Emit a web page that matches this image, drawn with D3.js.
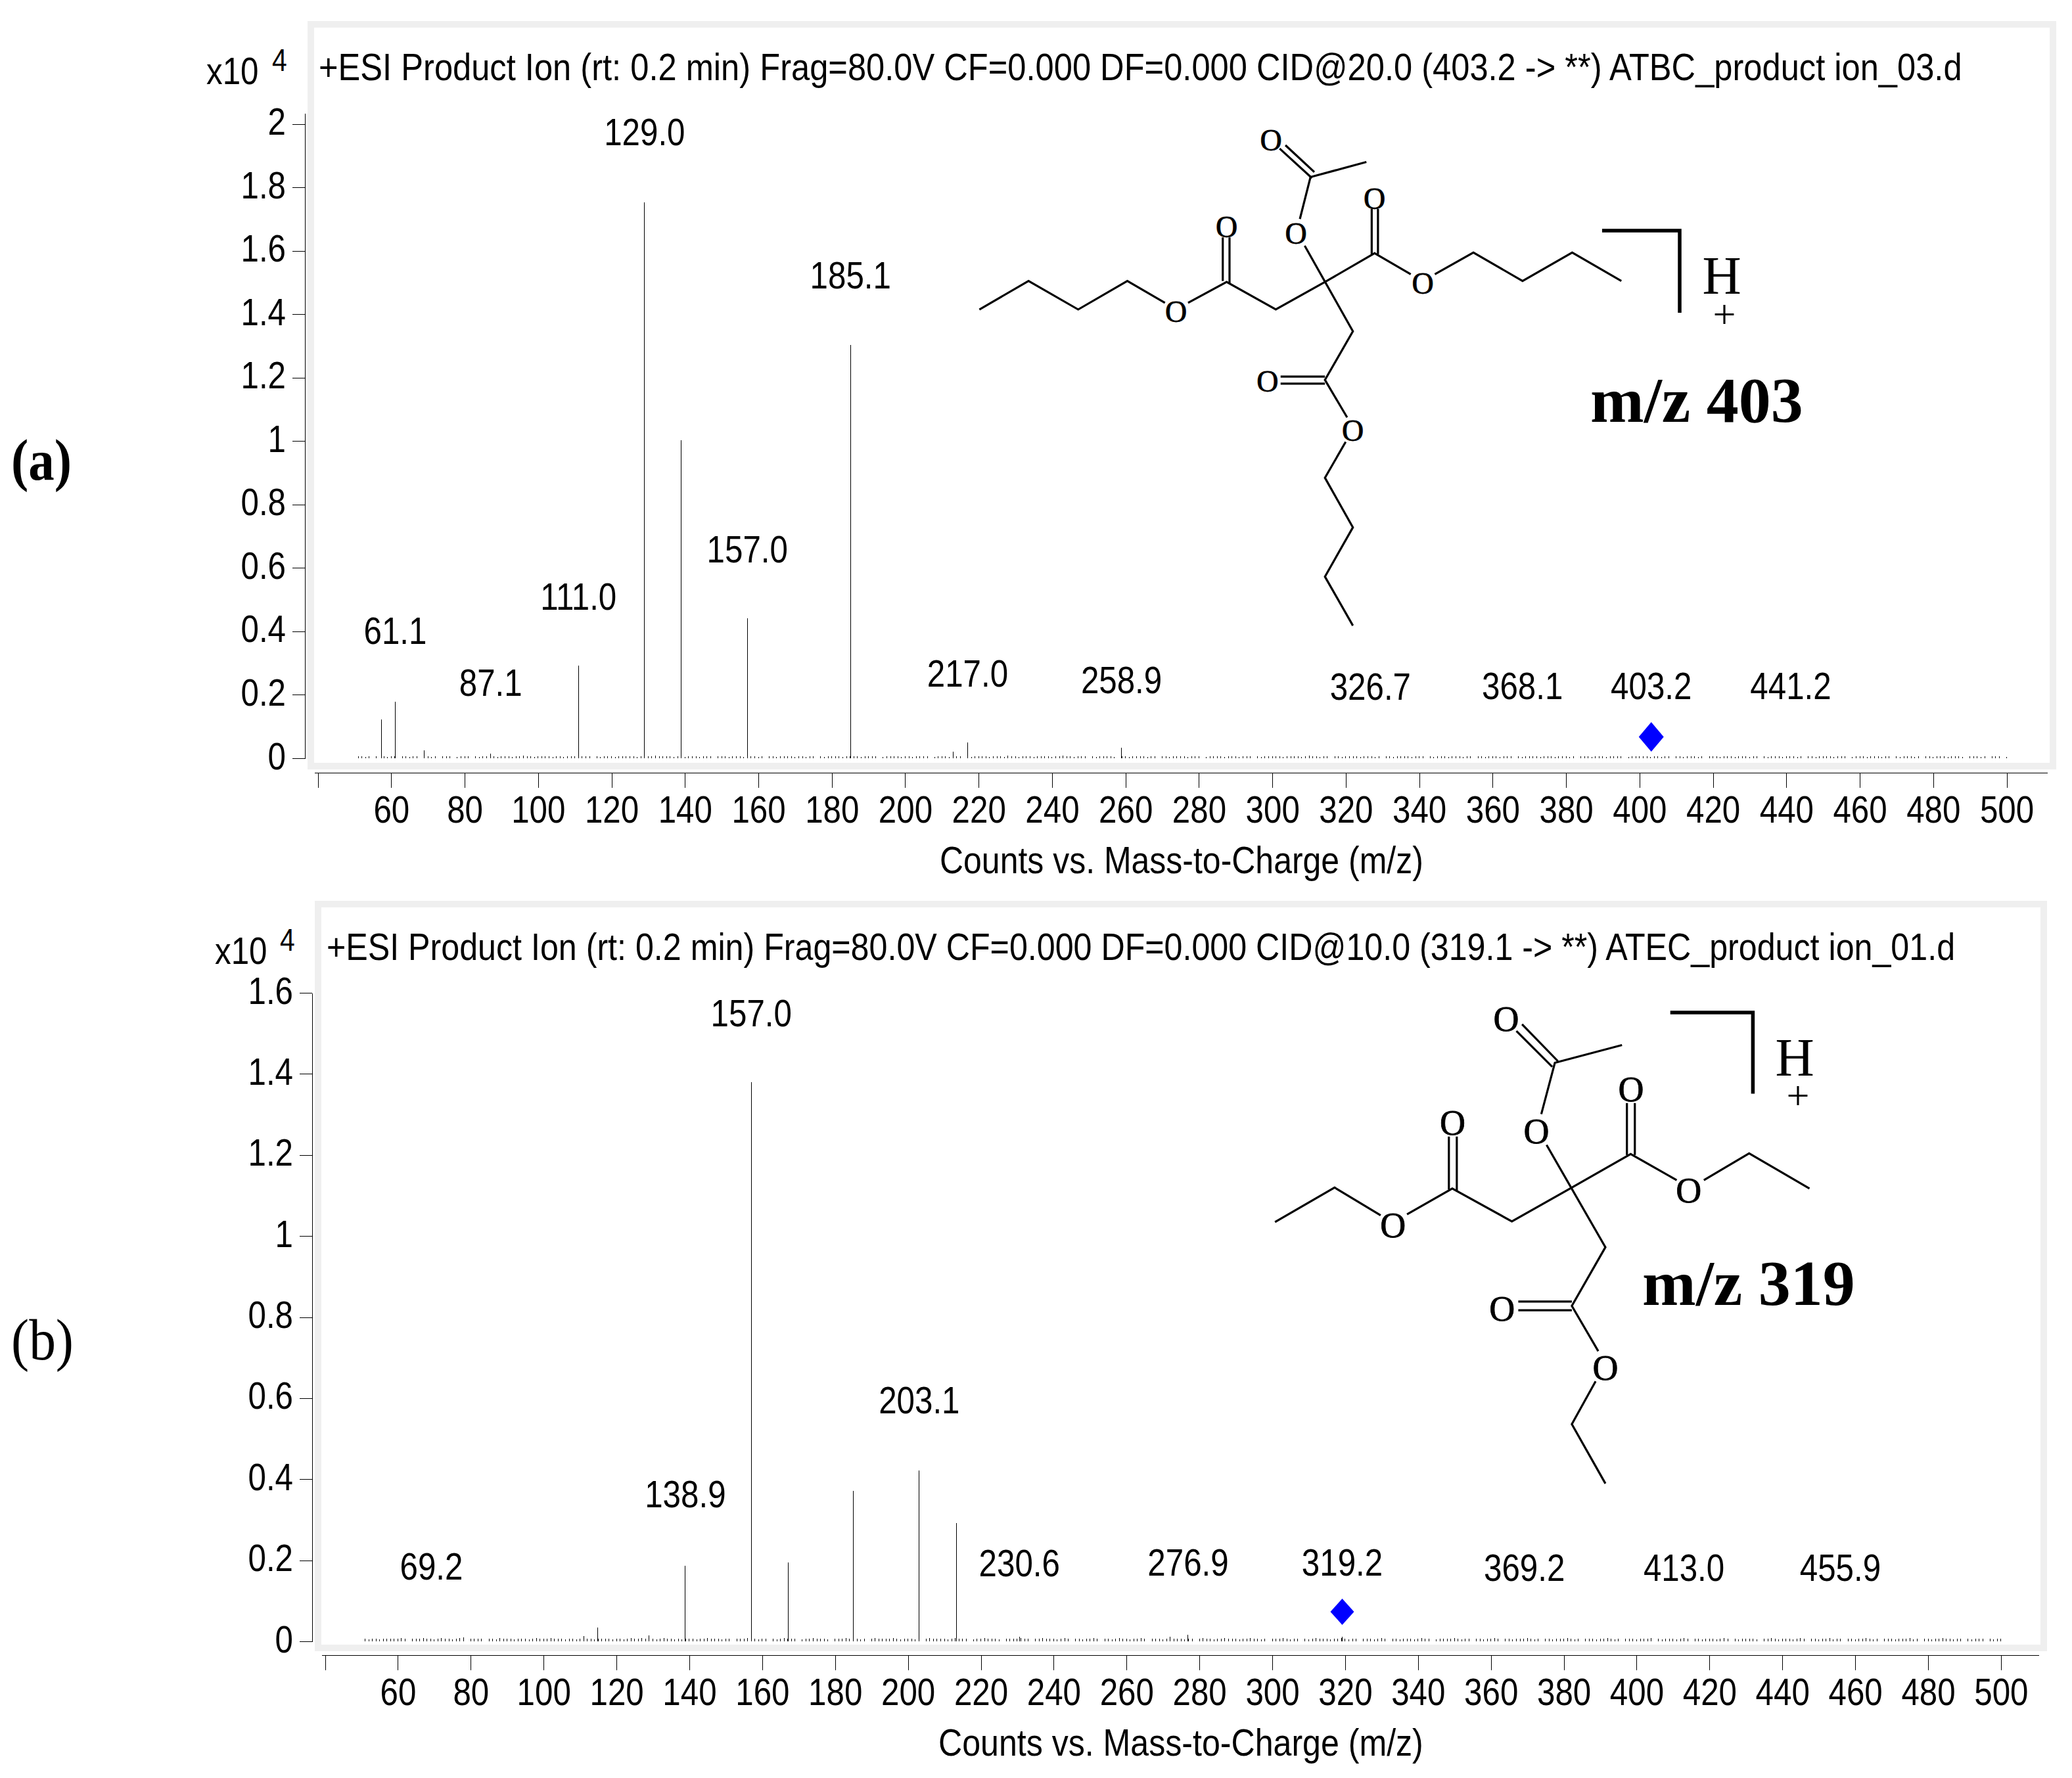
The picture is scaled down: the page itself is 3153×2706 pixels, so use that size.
<!DOCTYPE html>
<html>
<head>
<meta charset="utf-8">
<script src="https://cdnjs.cloudflare.com/ajax/libs/d3/7.8.5/d3.min.js"></script>
<style>
  body { margin: 0; background: #fff; }
  text { font-family: "Liberation Sans", Arial, sans-serif; fill: #000; }
  .serif { font-family: "Liberation Serif", "Times New Roman", serif; }
</style>
</head>
<body>
<div id="chart"></div>
<script>
// tick labels, the first tick at 40 carries no label in the original
const xTicks = [40, 60, 80, 100, 120, 140, 160, 180, 200, 220, 240, 260, 280, 300, 320, 340, 360, 380, 400, 420, 440, 460, 480, 500];
const yTicksA = [0, 0.2, 0.4, 0.6, 0.8, 1, 1.2, 1.4, 1.6, 1.8, 2];
const yTicksB = [0, 0.2, 0.4, 0.6, 0.8, 1, 1.2, 1.4, 1.6];

// spectrum (a), peaks in counts x10^4
const peakMzA = [57.3, 61.1, 68.9, 87.1, 111.0, 129.0, 139.0, 157.0, 185.1, 213.0, 217.0, 258.9];
const peakValA = [0.122, 0.178, 0.025, 0.014, 0.292, 1.753, 1.003, 0.441, 1.304, 0.02, 0.05, 0.033];
const labelMzA = [61.1, 87.1, 111.0, 129.0, 157.0, 185.1, 217.0, 258.9, 326.7, 368.1, 403.2, 441.2];
const labelValA = [0.354, 0.191, 0.462, 1.927, 0.611, 1.476, 0.22, 0.199, 0.178, 0.18, 0.18, 0.18];

// spectrum (b)
const peakMzB = [111.0, 114.9, 128.9, 138.9, 157.0, 167.2, 185.0, 203.1, 213.4, 230.6, 272.0, 276.9, 319.2];
const peakValB = [0.013, 0.034, 0.015, 0.186, 1.379, 0.194, 0.371, 0.422, 0.292, 0.012, 0.012, 0.016, 0.012];
const labelMzB = [69.2, 138.9, 157.0, 203.1, 230.6, 276.9, 319.2, 369.2, 413.0, 455.9];
const labelValB = [0.148, 0.326, 1.512, 0.558, 0.156, 0.157, 0.157, 0.144, 0.144, 0.144];

// baseline noise at m/z 51..500, in thousandths of the y unit
const noiseA = [
  6,7,5,6,0,6,0,7,5,6, 7,0,6,7,5,7,6,0,0,7, 5,6,0,7,6,7,0,5,7,6, 6,0,7,5,6,7,6,7,5,6, 7,6,5,7,6,8,6,7,5,6,
  7,6,7,5,6,7,5,6,7,6, 5,7,6,7,0,6,5,7,6,7, 5,6,7,6,6,7,5,7,6,6, 7,9,7,6,6,7,5,6,7,5, 6,7,6,5,7,6,7,0,6,7,
  6,5,7,6,7,5,6,6,7,5, 7,0,6,7,5,6,7,6,7,5, 6,7,5,6,7,0,6,5,7,6, 7,6,5,7,6,7,6,5,7,6, 6,7,0,5,6,7,6,7,5,7,
  6,5,7,6,6,7,0,5,7,6, 7,5,6,7,6,0,7,5,6,7, 6,7,5,6,7,6,5,8,7,6, 5,7,6,7,5,7,6,6,7,5, 6,7,8,6,7,5,6,7,6,0,
  7,5,6,7,6,7,5,0,6,7, 5,6,7,6,7,5,6,7,0,6, 7,5,6,7,6,7,5,6,6,7, 0,5,7,6,7,6,5,7,6,7, 5,6,7,6,0,7,5,6,7,6,
  7,6,5,7,6,6,7,5,7,8, 6,7,5,6,7,0,6,7,5,6, 7,6,7,5,6,7,6,5,7,0, 6,7,5,6,7,6,7,5,6,7, 6,0,7,5,6,7,6,5,7,6,
  7,5,6,7,0,6,7,5,6,7, 6,5,7,6,7,0,6,5,7,6, 7,6,5,7,6,7,5,6,7,6, 5,7,0,6,7,6,5,7,6,7, 5,6,7,6,7,0,5,6,7,6,
  6,7,5,7,6,5,7,6,0,7, 6,5,7,6,7,5,6,0,7,6, 7,5,6,7,6,5,7,6,7,5, 6,7,0,6,5,7,6,7,5,6, 7,6,5,7,0,6,7,5,6,7,
  6,7,5,6,7,6,0,5,7,6, 7,5,6,6,7,5,7,6,0,7, 5,6,7,6,5,7,0,6,7,5, 6,7,6,5,7,6,7,5,0,6, 7,6,5,7,0,6,6,7,0,5
];
const noiseB = [
  6,5,7,6,5,6,7,7,6,7, 8,7,0,7,7,6,8,7,6,5, 7,8,6,7,5,6,8,9,0,7, 6,7,6,0,7,6,5,8,7,6, 7,5,6,7,6,5,7,8,7,6,
  6,8,7,7,6,5,6,7,5,6, 8,7,6,5,7,6,7,6,5,6, 7,5,6,8,7,7,8,6,7,6, 5,7,8,7,6,5,7,5,6,7, 6,5,7,6,8,7,7,6,5,7,
  6,0,7,6,6,8,7,6,5,7, 7,0,6,5,7,8,6,7,6,0, 5,6,7,8,7,6,7,5,0,7, 6,7,8,6,7,7,5,6,0,7, 8,6,7,6,6,8,7,5,6,7,
  6,5,7,0,6,8,7,7,6,7, 5,7,8,6,7,6,0,5,7,6, 8,7,6,7,5,0,7,6,6,7, 8,6,7,0,6,7,8,6,7,7, 5,6,8,7,0,6,7,5,7,6,
  8,7,0,7,6,5,7,8,6,7, 5,7,6,8,7,0,6,7,6,5, 7,8,7,6,7,5,6,7,0,6, 8,7,6,5,7,6,8,7,7,6, 5,7,6,8,7,6,5,7,0,6,
  7,6,8,7,5,6,7,0,6,5, 7,8,6,7,6,5,7,6,8,7, 5,6,7,0,6,7,6,5,7,8, 6,0,7,6,5,7,6,7,5,6, 8,7,6,0,5,7,6,7,6,8,
  6,5,7,6,0,7,6,5,7,6, 8,7,0,6,7,5,6,7,6,8, 7,5,6,0,7,6,5,7,6,7, 8,6,5,7,0,6,7,6,5,7, 6,8,7,5,6,0,7,6,7,5,
  6,7,6,8,0,7,5,6,7,6, 5,7,8,6,0,7,6,5,7,6, 7,5,6,8,7,0,6,5,7,6, 7,6,5,0,7,6,8,7,5,6, 7,6,5,7,8,6,0,7,6,5,
  7,6,8,5,6,7,0,6,7,5, 6,7,8,6,5,7,0,6,7,6, 5,7,6,7,8,5,6,0,7,6, 5,7,6,8,7,6,5,7,6,0, 6,5,7,6,7,0,6,5,7,7
];

const titleA = '+ESI Product Ion (rt: 0.2 min) Frag=80.0V CF=0.000 DF=0.000 CID@20.0 (403.2 -> **) ATBC_product ion_03.d';
const titleB = '+ESI Product Ion (rt: 0.2 min) Frag=80.0V CF=0.000 DF=0.000 CID@10.0 (319.1 -> **) ATEC_product ion_01.d';
const xTitle = 'Counts vs. Mass-to-Charge (m/z)';

const bondsA = [
  [[55, 590], [157, 505], [260, 590], [362, 505], [440, 570]],
  [[488, 570], [568, 508], [670, 590], [772, 508], [875, 422], [950, 485]],
  [[1000, 485], [1080, 420], [1182, 505], [1285, 420], [1387, 505]],
  [[560, 505], [560, 375]], [[574, 512], [574, 375]],
  [[869, 425], [869, 290]], [[882, 425], [882, 290]],
  [[730, 400], [830, 655], [772, 800], [818, 912]],
  [[815, 985], [772, 1092], [830, 1240], [772, 1387], [830, 1533]],
  [[680, 790], [772, 790]], [[680, 811], [772, 811]],
  [[720, 320], [742, 195], [858, 150]],
  [[678, 110], [745, 198]], [[690, 100], [750, 180]]
];
const oxygensA = [[463, 597], [568, 345], [712, 365], [875, 260], [975, 513], [653, 806], [830, 953], [660, 85]];
const bracketA = [[1347, 355], [1508, 355], [1508, 600]];

const bondsB = [
  [[70, 725], [228, 622], [350, 705]],
  [[420, 702], [540, 625], [698, 723], [857, 622], [1013, 522], [1135, 600]],
  [[1207, 600], [1327, 520], [1487, 625]],
  [[531, 628], [531, 470]], [[552, 632], [552, 470]],
  [[1003, 525], [1003, 370]], [[1024, 525], [1024, 370]],
  [[790, 495], [946, 800], [857, 975], [927, 1110]],
  [[920, 1200], [857, 1328], [946, 1505]],
  [[715, 962], [857, 962]], [[715, 988], [857, 988]],
  [[776, 403], [812, 250], [990, 197]],
  [[710, 155], [805, 262]], [[725, 135], [820, 245]]
];
const oxygensB = [[383, 735], [541, 430], [763, 456], [1014, 330], [1167, 632], [672, 985], [946, 1160], [683, 120]];
const bracketB = [[1118, 100], [1337, 100], [1337, 342]];

const width = 3153, height = 2706;
const narrow = 0.85, fontSize = 58;

const svg = d3.select('#chart').append('svg')
  .attr('width', width)
  .attr('height', height)
  .style('display', 'block');

svg.append('rect').attr('width', width).attr('height', height).attr('fill', '#fff');

// text squeezed horizontally like the instrument font
function label(g, x, y, str, size, anchor) {
  return g.append('text')
    .attr('transform', `translate(${x},${y}) scale(${narrow},1)`)
    .attr('text-anchor', anchor || 'middle')
    .attr('font-size', size || fontSize)
    .text(str);
}

// squeeze a long line until it is exactly len wide
function fitted(g, x, y, str, len, cls, size, weight) {
  const t = g.append('text')
    .attr('class', cls || null)
    .attr('font-size', size || fontSize)
    .attr('font-weight', weight || null)
    .text(str);
  const natural = t.node().getComputedTextLength();
  t.attr('transform', `translate(${x},${y}) scale(${len / natural},1)`);
  return t;
}

function drawPanel(p) {
  const g = svg.append('g');

  // frame
  g.append('rect')
    .attr('x', p.frame[0] + 5).attr('y', p.frame[1] + 5)
    .attr('width', p.frame[2] - p.frame[0] - 10).attr('height', p.frame[3] - p.frame[1] - 10)
    .attr('fill', '#fff').attr('stroke', '#efefef').attr('stroke-width', 10);

  const x = d3.scaleLinear().domain(p.xDomain).range(p.xRange);
  const y = d3.scaleLinear().domain(p.yDomain).range(p.yRange);

  // x axis
  const xAxis = g.append('g')
    .attr('transform', `translate(0,${p.xAxisY})`)
    .call(d3.axisBottom(x).tickValues(p.xTicks).tickSize(23).tickSizeOuter(0)
      .tickFormat(d => d === 40 ? '' : d));
  xAxis.selectAll('text')
    .attr('x', 0).attr('y', 0).attr('dy', 0)
    .attr('transform', `translate(0,76) scale(${narrow},1)`)
    .attr('font-size', fontSize).attr('font-family', null);

  // y axis
  const yAxis = g.append('g')
    .attr('transform', `translate(${p.yAxisX},0)`)
    .call(d3.axisLeft(y).tickValues(p.yTicks).tickFormat(d => d).tickSize(19).tickSizeOuter(0));
  yAxis.selectAll('text')
    .attr('x', 0).attr('y', 0).attr('dy', 0)
    .attr('transform', `translate(-29,16) scale(${narrow},1)`)
    .attr('font-size', fontSize).attr('font-family', null);
  g.selectAll('.domain, .tick line')
    .attr('stroke', '#000').attr('stroke-width', 1).attr('shape-rendering', 'crispEdges');

  // baseline noise then the real peaks
  g.append('g').selectAll('line')
    .data(p.noise.map((v, i) => ({ mz: 51 + i, v: v / 1000 })).filter(d => d.v > 0))
    .enter().append('line')
    .attr('x1', d => x(d.mz)).attr('x2', d => x(d.mz))
    .attr('y1', y(0)).attr('y2', d => y(d.v))
    .attr('stroke', '#000').attr('stroke-width', 1).attr('shape-rendering', 'crispEdges');

  g.append('g').selectAll('line')
    .data(p.peakMz)
    .enter().append('line')
    .attr('x1', d => x(d)).attr('x2', d => x(d))
    .attr('y1', y(0)).attr('y2', (d, i) => y(p.peakVal[i]))
    .attr('stroke', '#000').attr('stroke-width', 1).attr('shape-rendering', 'crispEdges');

  // peak labels
  p.labelMz.forEach((m, i) => label(g, x(m), y(p.labelVal[i]) - 3, m.toFixed(1)));

  // precursor marker
  g.append('path')
    .attr('d', `M0,${-p.diamond[2]}L${p.diamond[1]},0L0,${p.diamond[2]}L${-p.diamond[1]},0Z`)
    .attr('transform', `translate(${x(p.precursor)},${y(p.diamond[0])})`)
    .attr('fill', '#0000ff');

  // texts
  fitted(g, p.title[0], p.title[1], p.titleText, p.title[2]);
  fitted(g, p.xTitle[0], p.xTitle[1], xTitle, p.xTitle[2]);
  label(g, p.exp[0], p.exp[1], 'x10', fontSize, 'start');
  label(g, p.exp[2], p.exp[3], '4', 48, 'start');
  fitted(g, p.tag[0], p.tag[1], p.tagText, p.tag[2], 'serif', 88, p.tagWeight);

  drawMolecule(g, p);
}

function drawMolecule(g, p) {
  const mx = d3.scaleLinear().domain([0, 1568]).range(p.molX);
  const my = d3.scaleLinear().domain([0, 1568]).range(p.molY);
  const line = d3.line().x(d => mx(d[0])).y(d => my(d[1]));

  g.append('g').selectAll('path')
    .data(p.bonds)
    .enter().append('path')
    .attr('d', line)
    .attr('fill', 'none').attr('stroke', '#000').attr('stroke-width', 3.2)
    .attr('stroke-linejoin', 'miter');

  g.append('path')
    .attr('d', line(p.bracket))
    .attr('fill', 'none').attr('stroke', '#000').attr('stroke-width', 5.5);

  g.append('g').selectAll('text')
    .data(p.oxygens)
    .enter().append('text')
    .attr('class', 'serif')
    .attr('x', d => mx(d[0])).attr('y', d => my(d[1]) + p.oSize * 0.33)
    .attr('text-anchor', 'middle')
    .attr('font-size', p.oSize)
    .attr('stroke', '#000').attr('stroke-width', 0.8)
    .text('O');

  g.append('text').attr('class', 'serif')
    .attr('x', p.h[0]).attr('y', p.h[1])
    .attr('text-anchor', 'middle').attr('font-size', 82).text('H');
  g.append('text').attr('class', 'serif')
    .attr('x', p.h[2]).attr('y', p.h[3])
    .attr('text-anchor', 'middle').attr('font-size', 62).text('+');
  g.append('text').attr('class', 'serif')
    .attr('x', p.mass[0]).attr('y', p.mass[1])
    .attr('font-size', 98).attr('font-weight', 'bold').text(p.massText);
}

drawPanel({
  frame: [468, 32, 3129, 1171],
  xDomain: [39, 511], xRange: [478, 3115],
  yDomain: [0, 2.035], yRange: [1154, 172],
  xAxisY: 1176, yAxisX: 464,
  xTicks: xTicks, yTicks: yTicksA,
  noise: noiseA, peakMz: peakMzA, peakVal: peakValA,
  labelMz: labelMzA, labelVal: labelValA,
  precursor: 403.2, diamond: [0.0674, 19, 22.5],
  title: [485, 122, 2501], titleText: titleA,
  xTitle: [1430, 1329, 736],
  exp: [314, 128, 414, 108],
  tag: [17, 730, 92], tagText: '(a)', tagWeight: 'bold',
  bonds: bondsA, oxygens: oxygensA, bracket: bracketA,
  molX: [1450, 2600], molY: [170, 970], oSize: 46,
  h: [2620, 447, 2624, 499],
  mass: [2420, 642], massText: 'm/z 403'
});

drawPanel({
  frame: [479, 1371, 3115, 2513],
  xDomain: [39, 510.3], xRange: [489, 3102],
  yDomain: [0, 1.6], yRange: [2498, 1511],
  xAxisY: 2519, yAxisX: 475,
  xTicks: xTicks, yTicks: yTicksB,
  noise: noiseB, peakMz: peakMzB, peakVal: peakValB,
  labelMz: labelMzB, labelVal: labelValB,
  precursor: 319.2, diamond: [0.073, 18, 20],
  title: [497, 1461, 2479], titleText: titleB,
  xTitle: [1428, 2672, 738],
  exp: [327, 1467, 426, 1447],
  tag: [17, 2069, 95], tagText: '(b)', tagWeight: 'normal',
  bonds: bondsB, oxygens: oxygensB, bracket: bracketB,
  molX: [1900, 2800], molY: [1490, 2290], oSize: 54,
  h: [2731, 1637, 2736, 1688],
  mass: [2499, 1986], massText: 'm/z 319'
});
</script>
</body>
</html>
